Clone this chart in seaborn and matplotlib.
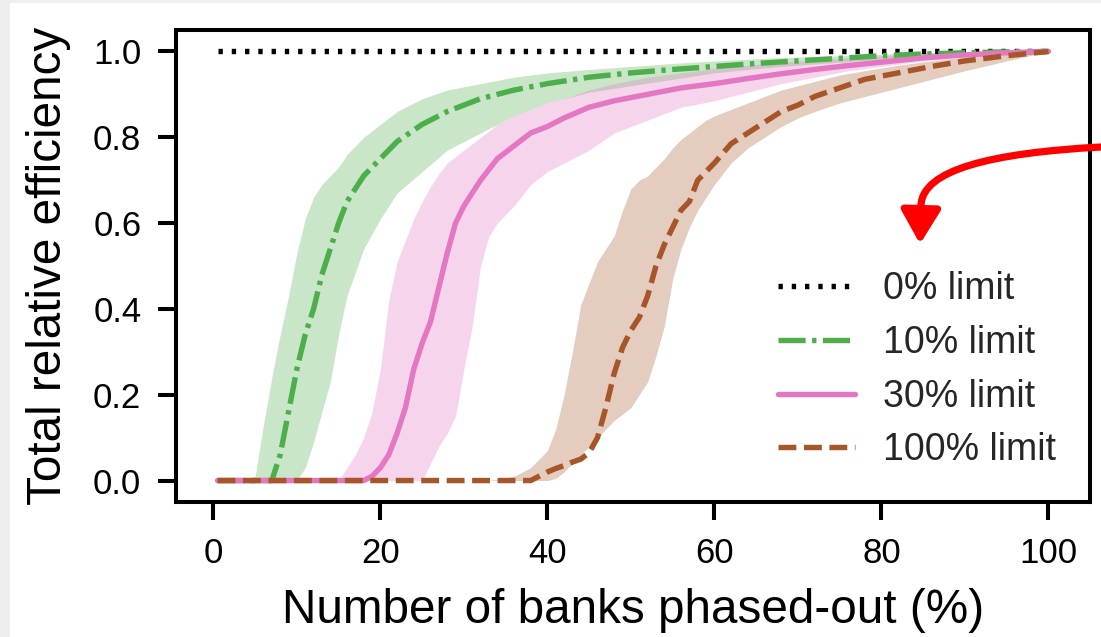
import numpy as np
import pandas as pd
import matplotlib
matplotlib.use("Agg")
import matplotlib.pyplot as plt
import seaborn as sns
from matplotlib.path import Path
from matplotlib.patches import FancyArrowPatch, Rectangle

# ---------------- data ----------------
labels = ["0% limit", "10% limit", "30% limit", "100% limit"]

x_0 = [0.5, 100]
mean_0 = [1.0, 1.0]

x_10 = [0.5, 4, 5, 6, 7, 8, 9, 10, 11, 12, 13, 14, 15, 16, 18, 20, 22, 25, 28, 32,
        36, 40, 45, 50, 55, 60, 65, 70, 75, 80, 85, 90, 95, 100]
mean_10 = [0, 0, 0, 0, 0, 0.06, 0.16, 0.26, 0.34, 0.40, 0.48, 0.54, 0.60, 0.65, 0.71, 0.75,
           0.79, 0.83, 0.86, 0.89, 0.91, 0.925, 0.94, 0.95, 0.958, 0.965, 0.972, 0.978,
           0.984, 0.99, 0.994, 0.997, 0.999, 1.0]
hi_10 = [0, 0, 0.01, 0.13, 0.24, 0.34, 0.43, 0.53, 0.61, 0.66, 0.69, 0.71, 0.73, 0.76, 0.80,
         0.83, 0.86, 0.89, 0.91, 0.925, 0.94, 0.95, 0.958, 0.965, 0.972, 0.978, 0.983,
         0.987, 0.99, 0.994, 0.997, 0.999, 1.0, 1.0]
lo_10 = [0, 0, 0, 0, 0, 0, 0, 0, 0.03, 0.09, 0.16, 0.23, 0.34, 0.43, 0.54, 0.61, 0.67, 0.72,
         0.77, 0.81, 0.85, 0.88, 0.905, 0.92, 0.935, 0.95, 0.96, 0.968, 0.975, 0.982,
         0.988, 0.993, 0.997, 1.0]

x_30 = [0.5, 14, 15, 16, 17, 18, 19, 20, 21, 22, 23, 24, 25, 26, 27, 28, 29, 30, 31, 32,
        33, 34, 36, 38, 40, 42, 45, 48, 52, 56, 60, 64, 68, 72, 76, 80, 85, 90, 95, 100]
mean_30 = [0, 0, 0, 0, 0, 0, 0.01, 0.03, 0.06, 0.11, 0.17, 0.26, 0.32, 0.37, 0.45, 0.53,
           0.60, 0.64, 0.67, 0.70, 0.725, 0.75, 0.78, 0.81, 0.825, 0.845, 0.87, 0.885,
           0.90, 0.915, 0.925, 0.937, 0.948, 0.958, 0.967, 0.975, 0.985, 0.992, 0.997, 1.0]
hi_30 = [0, 0, 0, 0.03, 0.06, 0.10, 0.16, 0.26, 0.42, 0.51, 0.56, 0.61, 0.65, 0.685, 0.715,
         0.74, 0.755, 0.77, 0.785, 0.80, 0.815, 0.83, 0.85, 0.865, 0.88, 0.89, 0.91, 0.925,
         0.94, 0.95, 0.96, 0.968, 0.975, 0.98, 0.985, 0.99, 0.995, 0.998, 1.0, 1.0]
lo_30 = [0, 0, 0, 0, 0, 0, 0, 0, 0, 0, 0, 0, 0, 0.04, 0.08, 0.11, 0.15, 0.26, 0.36, 0.50,
         0.57, 0.60, 0.64, 0.69, 0.72, 0.74, 0.77, 0.81, 0.84, 0.87, 0.885, 0.905, 0.925,
         0.94, 0.955, 0.965, 0.978, 0.988, 0.995, 1.0]

x_100 = [0.5, 33, 34, 36, 38, 40, 41, 42, 43, 44, 45, 46, 47, 48, 49, 50, 51, 52, 53, 54,
         55, 56, 57, 58, 59, 60, 62, 64, 66, 68, 70, 72, 75, 78, 82, 86, 90, 95, 100]
mean_100 = [0, 0, 0, 0, 0, 0.02, 0.028, 0.035, 0.043, 0.05, 0.065, 0.10, 0.17, 0.25, 0.31,
            0.35, 0.38, 0.43, 0.50, 0.55, 0.59, 0.63, 0.65, 0.70, 0.72, 0.74, 0.785, 0.81,
            0.835, 0.86, 0.875, 0.895, 0.915, 0.935, 0.95, 0.965, 0.978, 0.99, 1.0]
hi_100 = [0, 0, 0.003, 0.01, 0.03, 0.07, 0.12, 0.20, 0.30, 0.41, 0.46, 0.51, 0.54, 0.57,
          0.63, 0.68, 0.70, 0.71, 0.73, 0.75, 0.775, 0.795, 0.81, 0.825, 0.84, 0.85, 0.865,
          0.88, 0.895, 0.91, 0.92, 0.93, 0.945, 0.955, 0.968, 0.978, 0.987, 0.995, 1.0]
lo_100 = [0, 0, 0, 0, 0, 0, 0.005, 0.02, 0.04, 0.06, 0.08, 0.10, 0.12, 0.14, 0.155, 0.17,
          0.20, 0.23, 0.29, 0.36, 0.47, 0.54, 0.59, 0.63, 0.66, 0.69, 0.74, 0.775, 0.80,
          0.825, 0.845, 0.86, 0.88, 0.895, 0.915, 0.935, 0.955, 0.978, 1.0]

x_ticks = [0, 20, 40, 60, 80, 100]
y_ticks = [0.0, 0.2, 0.4, 0.6, 0.8, 1.0]

colors = ["black", "#4daf4a", "#e377c2", "#a65628"]

# ---------------- style ----------------
sns.set_style("ticks")
plt.rcParams['font.family'] = ['Liberation Sans', 'DejaVu Sans']

W, H = 1101, 637
fig = plt.figure(figsize=(W / 100, H / 100), dpi=100, facecolor='#eeeeee')
fig.patches.append(Rectangle((10 / W, 0), 1, 1 - 3 / H, transform=fig.transFigure,
                             facecolor='white', edgecolor='none', zorder=-10))
ax = fig.add_axes([176 / W, 1 - 502 / H, (1090 - 176) / W, (502 - 30) / H])

# bands
ax.fill_between(x_10, lo_10, hi_10, color=colors[1], alpha=0.3, linewidth=0, zorder=1)
ax.fill_between(x_30, lo_30, hi_30, color=colors[2], alpha=0.3, linewidth=0, zorder=1)
ax.fill_between(x_100, lo_100, hi_100, color=colors[3], alpha=0.3, linewidth=0, zorder=1)

# mean lines
LW = 3.9
sns.lineplot(x=x_0, y=mean_0, color=colors[0], linestyle=(0, (0.8, 1.65)), linewidth=LW,
             label=labels[0], ax=ax, zorder=3)
sns.lineplot(x=x_10, y=mean_10, color=colors[1], linestyle=(0, (5.0, 1.2, 0.8, 1.2)),
             linewidth=LW, label=labels[1], ax=ax, zorder=3)
sns.lineplot(x=x_30, y=mean_30, color=colors[2], linestyle='-', linewidth=LW,
             label=labels[2], ax=ax, zorder=3)
sns.lineplot(x=x_100, y=mean_100, color=colors[3], linestyle=(0, (3.3, 1.4)), linewidth=LW,
             label=labels[3], ax=ax, zorder=3)

ax.set_xticks(x_ticks)
ax.set_yticks(y_ticks)
ax.set_yticklabels([f"{v:.1f}" for v in y_ticks])
ax.set_xlim(-4.475, 104.975)
ax.set_ylim(-0.05, 1.05)

for s in ax.spines.values():
    s.set_linewidth(2.9)
    s.set_color('black')
ax.tick_params(axis='both', which='major', labelsize=25, width=2.9, length=13, pad=12,
               color='black', labelcolor='black')

# tick marks also drawn as short line segments (axes transforms), to be sure they show
ylen = 18 / (1090 - 176)   # tick length as a fraction of axes width
xlen = 18 / (502 - 30)     # tick length as a fraction of axes height
ytrans = ax.get_yaxis_transform()
xtrans = ax.get_xaxis_transform()
for yv in y_ticks:
    ax.plot([-ylen, 0], [yv, yv], color='black', linewidth=2.9, solid_capstyle='butt',
            transform=ytrans, clip_on=False, zorder=10)
for xv in x_ticks:
    ax.plot([xv, xv], [-xlen, 0], color='black', linewidth=2.9, solid_capstyle='butt',
            transform=xtrans, clip_on=False, zorder=10)

ax.set_xlabel("Number of banks phased-out (%)", fontsize=34.3, labelpad=13, color='black')
ax.set_ylabel("Total relative efficiency", fontsize=34.3, labelpad=16, color='black')

leg = ax.legend(loc='lower right', frameon=False, fontsize=27, handlelength=2.05,
                handletextpad=0.75, labelspacing=0.47)

# red arrow
def fx(px):
    return px / W

def fy(py):
    return 1 - py / H

verts = [(fx(1101), fy(147)), (fx(990), fy(153)), (fx(923), fy(170)), (fx(921), fy(205)),
         (fx(920), fy(244))]
codes = [Path.MOVETO, Path.CURVE4, Path.CURVE4, Path.CURVE4, Path.LINETO]
arrow = FancyArrowPatch(path=Path(verts, codes), arrowstyle='-|>,head_length=0.85,head_width=0.5',
                        mutation_scale=24, color='#ff0000', linewidth=5.2,
                        transform=fig.transFigure, zorder=20, shrinkA=0, shrinkB=0)
fig.patches.append(arrow)

fig.savefig("out.png", dpi=100, facecolor=fig.get_facecolor())
